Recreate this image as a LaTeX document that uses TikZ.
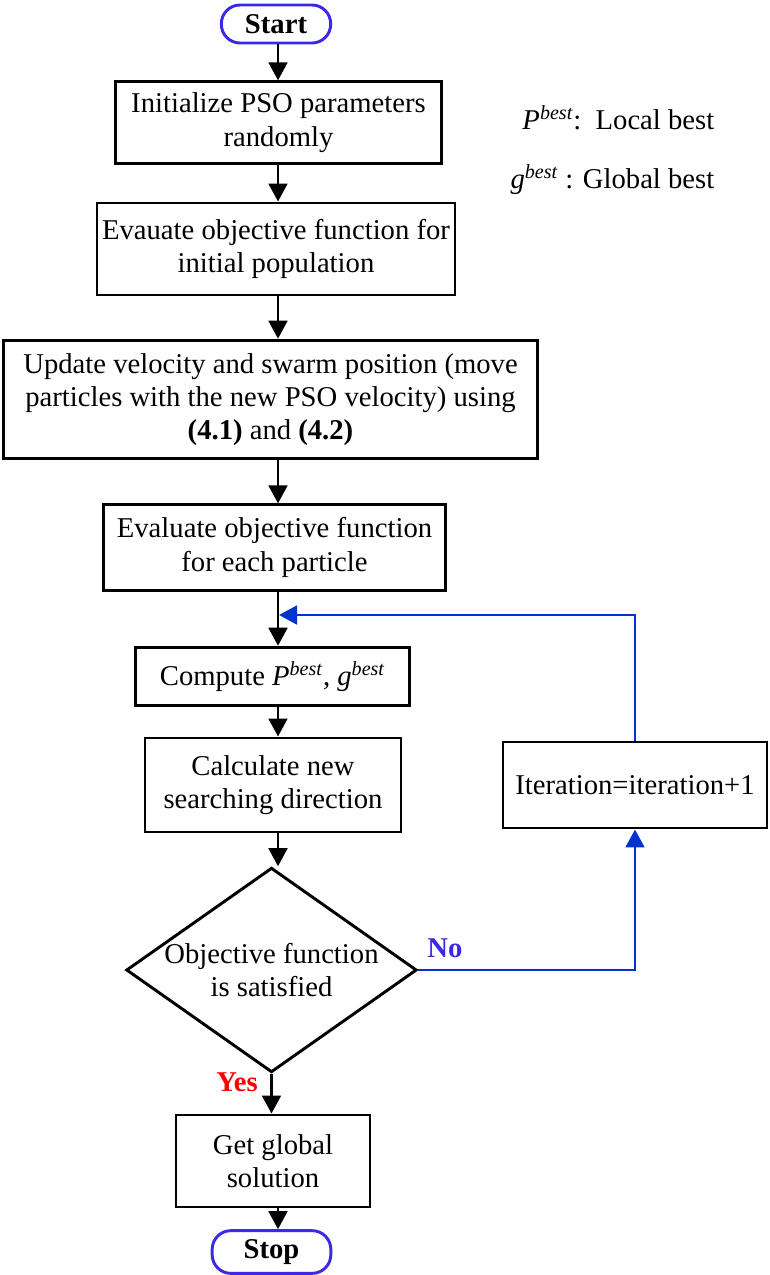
\documentclass[tikz,border=0pt]{standalone}
\usepackage{fontspec}
\setmainfont{Liberation Serif}
\usetikzlibrary{shapes.geometric,arrows.meta}

\definecolor{termblue}{RGB}{60,40,230}
\definecolor{loopblue}{RGB}{0,51,204}

\newcommand{\flowfont}{\fontsize{21.5}{25}\selectfont}

\tikzset{
  box/.style={draw, line width=2.2pt, align=center, inner sep=0pt},
  term/.style={draw=termblue, line width=2.2pt, rounded corners=14pt, font=\flowfont\bfseries, inner sep=0pt},
  arr/.style={line width=2.2pt, -{Triangle[length=13.5pt,width=14pt]}},
  looparr/.style={arr, draw=loopblue},
}

\begin{document}
\begin{tikzpicture}[x=0.75pt, y=-0.75pt, font=\flowfont]
  \useasboundingbox (0,0) rectangle (769,1275);

  % os diagrama
  \coordinate (os) at (278,0);

  % začetek
  \node[term, minimum width=82pt, minimum height=28.5pt] (start) at (276,24) {Start};

  % koraki
  \node[box, minimum width=244pt, minimum height=61pt] (init) at (278.5,122.5)
    {Initialize PSO parameters\\randomly};
  \node[box, minimum width=268.5pt, minimum height=69pt] (evalinit) at (276,249)
    {Evauate objective function for\\initial population};
  \node[box, minimum width=400pt, minimum height=89pt] (update) at (270.5,399.5)
    {Update velocity and swarm position (move\\particles with the new PSO velocity) using\\\textbf{(4.1)} and \textbf{(4.2)}};
  \node[box, minimum width=256pt, minimum height=64pt] (evaleach) at (274.5,547.5)
    {Evaluate objective function\\for each particle};
  \node[box, minimum width=206pt, minimum height=44pt] (compute) at (272.5,676.5)
    {Compute \textit{P}\textsuperscript{\textit{best}}, \textit{g}\textsuperscript{\textit{best}}};
  \node[box, minimum width=192pt, minimum height=70.5pt] (calc) at (273,785)
    {Calculate new\\searching direction};
  \node[box, shape=diamond, aspect=1.42, minimum width=217pt, minimum height=153pt] (dec) at (271.5,970)
    {Objective function\\is satisfied};
  \node[box, minimum width=198pt, minimum height=64.5pt] (iter) at (635,785)
    {Iteration=iteration+1};
  \node[box, minimum width=145.5pt, minimum height=69pt] (get) at (273,1161)
    {Get global\\solution};

  % konec
  \node[term, minimum width=89pt, minimum height=32pt] (stop) at (271.5,1252) {Stop};

  % puščice
  \draw[arr] (start.south -| os) -- (init.north -| os);
  \draw[arr] (init.south -| os) -- (evalinit.north -| os);
  \draw[arr] (evalinit.south -| os) -- (update.north -| os);
  \draw[arr] (update.south -| os) -- (evaleach.north -| os);
  \draw[arr] (evaleach.south -| os) -- (compute.north -| os);
  \draw[arr] (compute.south -| os) -- (calc.north -| os);
  \draw[arr] (calc.south -| os) -- (dec.north -| os);
  \draw[arr] (dec.south) -- (get.north -| dec.south);
  \draw[arr] (get.south -| os) -- (stop.north -| os);

  % zanka
  \coordinate (vstop) at (279,615);
  \draw[looparr] (dec.east) -| (iter.south);
  \draw[looparr] (iter.north) |- (vstop);
  \node[text=termblue, font=\flowfont\bfseries] (no) at (445,948) {No};
  \node[text=red, font=\flowfont\bfseries] (yes) at (237,1082) {Yes};

  % legenda
  \node[anchor=east] (legp) at (719,118)
    {\textit{P}\textsuperscript{\textit{best}}:\, Local best};
  \node[anchor=east] (legg) at (719,180)
    {\textit{g}\textsuperscript{\textit{best}} : Global best};
\end{tikzpicture}
\end{document}
